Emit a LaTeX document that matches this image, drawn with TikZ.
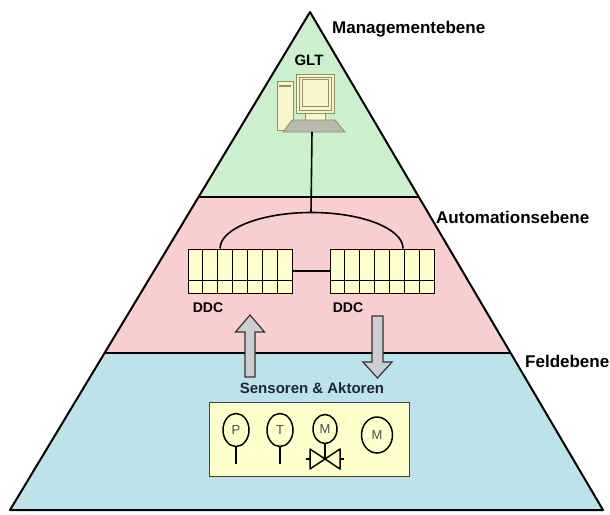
\documentclass[tikz,border=0pt]{standalone}
\usepackage{fontspec}
\setmainfont{Liberation Sans}
\usetikzlibrary{shapes.geometric, arrows.meta, positioning, calc}
\definecolor{mgmtgreen}{RGB}{204,240,206}
\definecolor{autopink}{RGB}{249,206,207}
\definecolor{fieldblue}{RGB}{188,226,234}
\definecolor{cream}{RGB}{255,255,204}
\definecolor{pcbeige}{RGB}{250,246,204}
\definecolor{pcedge}{RGB}{150,140,100}
\definecolor{keygray}{RGB}{185,185,175}
\definecolor{flowgray}{RGB}{205,205,210}
\definecolor{inkslate}{RGB}{30,40,60}
\tikzset{
  lvl/.style={font=\fontsize{17}{20}\selectfont\bfseries, anchor=west, inner sep=0pt},
  ddctag/.style={font=\fontsize{14}{16}\selectfont\bfseries, inner sep=0pt},
  ddc/.style={rectangle, draw=black, line width=1pt, fill=cream, minimum width=104pt, minimum height=44pt, inner sep=0pt},
  flow/.style={draw=black!80, line width=1.2pt, line join=miter, fill=flowgray},
  instr/.style={ellipse, draw=black, line width=1.5pt, inner sep=0pt, font=\fontsize{13}{15}\selectfont, text=black!70},
  pc/.style={draw=pcedge, line width=0.8pt, fill=pcbeige},
  rim/.style={line width=2pt, line join=round},
  wire/.style={line width=1.6pt},
}

\begin{document}
\begin{tikzpicture}[x=1pt, y=-1pt]
\useasboundingbox (0,0) rectangle (610,514);
\fill[white] (0,0) rectangle (610,514);
\coordinate (apex) at (310,12);
\coordinate (bl) at (10,510);
\coordinate (br) at (603,510);
\coordinate (l1) at ($(apex)!0.3715!(bl)$);
\coordinate (r1) at ($(apex)!0.3715!(br)$);
\coordinate (l2) at ($(apex)!0.6847!(bl)$);
\coordinate (r2) at ($(apex)!0.6847!(br)$);
\fill[mgmtgreen] (apex) -- (r1) -- (l1) -- cycle;
\fill[autopink] (l1) -- (r1) -- (r2) -- (l2) -- cycle;
\fill[fieldblue] (l2) -- (r2) -- (br) -- (bl) -- cycle;
\draw[rim] (apex) -- (br) -- (bl) -- cycle;
\draw[rim] (l1) -- (r1) (l2) -- (r2);

\node[lvl] (mgmt) at (332,29) {Managementebene};
\node[lvl] (auto) at (436,217) {Automationsebene};
\node[lvl] (feld) at (525,361) {Feldebene};

\node[font=\fontsize{15}{17}\selectfont\bfseries, inner sep=0pt] (glttext) at (309,60) {GLT};
\draw[pc] (277,81) rectangle (293,130);
\draw[pcedge, line width=1.2pt] (279,86) -- (291,86);
\draw[pc] (305,110) rectangle (325,121);
\draw[pc] (296,74) rectangle (334,113);
\draw[pc] (299,77) rectangle (331,110);
\draw[pc] (302,79) rectangle (328,106);
\draw[pc, fill=keygray] (292,120) -- (335,120) -- (345,132) -- (283,132) -- cycle;
\coordinate (glt) at (312,132);

\node[ddc] (ddcl) at (240,271) {};
\node[ddc] (ddcr) at (382,271) {};
\foreach \b in {ddcl,ddcr}{
  \foreach \i in {1,...,6}
    \draw[line width=1pt] ($(\b.north west)!\i/7!(\b.north east)$) -- ($(\b.south west)!\i/7!(\b.south east)$);
  \draw[line width=1.8pt] ($(\b.north west)!0.71!(\b.south west)$) -- ($(\b.north east)!0.71!(\b.south east)$);
}
\coordinate (ring) at ($($(ddcl.north)!0.5!(ddcr.north)$)+(0,-36)$);
\draw[wire] (glt) -- (ring);
\draw[wire] ($(ddcl.north west)!0.31!(ddcl.north east)$) arc[start angle=180, end angle=360, x radius=91.5, y radius=36];
\draw[wire] (ddcl) -- (ddcr);
\node[ddctag] (ddcltag) at (208,308) {DDC};
\node[ddctag] (ddcrtag) at (348,308) {DDC};

\coordinate (upbase) at (250,377);
\coordinate (uptip) at (250,315);
\coordinate (downtop) at (377.5,316);
\coordinate (downtip) at (377.5,378);
\draw[flow] (upbase) ++(-5,0) -- ++(0,-45) -- ++(-9.5,0) -- (uptip) -- ++(14.5,17) -- ++(-9.5,0) -- ++(0,45) -- cycle;
\draw[flow] (downtop) ++(-5.5,0) -- ++(0,46) -- ++(-9,0) -- (downtip) -- ++(14.5,-16) -- ++(-9,0) -- ++(0,-46) -- cycle;

\node[font=\fontsize{15}{18}\selectfont\bfseries, text=inkslate, inner sep=0pt] (fieldtag) at (312,388) {Sensoren \& Aktoren};
\node[rectangle, draw=black!75, line width=1pt, fill=cream, minimum width=200pt, minimum height=74pt] (devices) at (309,439) {};
\node[instr, minimum width=26pt, minimum height=33pt] (ps) at (236,430) {P};
\node[instr, minimum width=26pt, minimum height=33pt] (ts) at (280,430) {T};
\node[instr, minimum width=24pt, minimum height=29pt] (vm) at (325,429) {M};
\node[instr, minimum width=31pt, minimum height=36pt] (mot) at (377,435) {M};
\draw[line width=1.5pt] (ps.south) -- ++(0,17) (ts.south) -- ++(0,17);
\coordinate (valve) at (325,459);
\draw[line width=1.5pt] (vm.south) -- (valve);
\draw[line width=1.5pt, line join=round] (valve) ++(-15,-10) -- ++(30,20) -- ++(0,-20) -- ++(-30,20) -- cycle;
\draw[line width=1.5pt] (valve) ++(-19,0) -- ++(4,0) (valve) ++(15,0) -- ++(4,0);
\end{tikzpicture}
\end{document}
